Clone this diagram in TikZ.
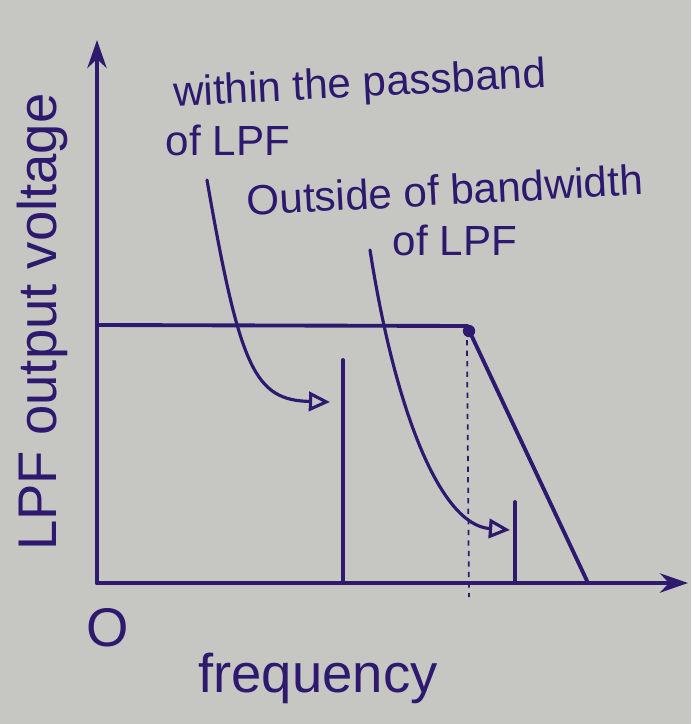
\documentclass[tikz,border=0pt]{standalone}
\usepackage{fontspec}
\setmainfont{Liberation Sans}
\usetikzlibrary{arrows.meta,positioning}
\definecolor{ink}{RGB}{45,25,110}
\definecolor{paper}{RGB}{198,199,195}
\tikzset{
    % axis arrow tip
    >={Stealth[length=16pt,width=11pt]},
    % pen stroke
    pen/.style={
           draw=ink,
           line width=2.2pt,
           line cap=round},
    % curved pointer from a label to a signal line
    pointer/.style={
           pen,
           line width=1.8pt,
           -{Triangle[open,length=12pt,width=11pt]}},
    % labels
    note/.style={text=ink, font=\fontsize{24}{27}\selectfont, inner sep=0pt},
    big/.style={text=ink, font=\fontsize{31}{34}\selectfont, inner sep=0pt}
}

\begin{document}
\begin{tikzpicture}[x=0.02cm, y=-0.02cm]
\fill[paper] (0,0) rectangle (691,724);
\useasboundingbox (0,0) rectangle (691,724);

% axes
\coordinate (O) at (97,583);
\coordinate (ytop) at (97,40);
\coordinate (xend) at (688,583);
\draw[pen,->] (O) -- (ytop);
\draw[pen,->] (O) -- (xend);
\node[big] (zero) at (108,628) {O};
\node[big] (freq) at (318,678) {frequency};
\node[big, rotate=90] (ylabel) at (42,322) {LPF output voltage};

% filter response
\coordinate (pass) at (97,325);
\coordinate (corner) at (467,326);
\coordinate (stop) at (588,583);
\draw[pen] (pass) -- (corner) -- (stop);
\fill[ink] ([shift={(2,5)}]corner) circle (3.5pt);
\coordinate (cutoff) at (467,340);
\draw[ink, dashed, line width=1pt] (cutoff) -- (469,597);

% signal lines
\coordinate (sigA) at (343,360);
\coordinate (sigB) at (515,502);
\draw[pen] (sigA) -- (sigA |- O);
\draw[pen] (sigB) -- (sigB |- O);

% labels
\node[note, rotate=3] (within) at (360,86) {within the passband};
\node[note] (withinLPF) at (228,140) {of LPF};
\node[note, rotate=3] (outside) at (445,190) {Outside of bandwidth};
\node[note] (outsideLPF) at (455,240) {of LPF};

% pointers
\coordinate (tailA) at (207,180);
\coordinate (tipA) at (330,402);
\coordinate (tailB) at (370,250);
\coordinate (tipB) at (510,530);
\draw[pointer] (tailA) .. controls (240,370) and (255,400) .. (tipA);
\draw[pointer] (tailB) .. controls (395,410) and (440,525) .. (tipB);
\end{tikzpicture}
\end{document}
